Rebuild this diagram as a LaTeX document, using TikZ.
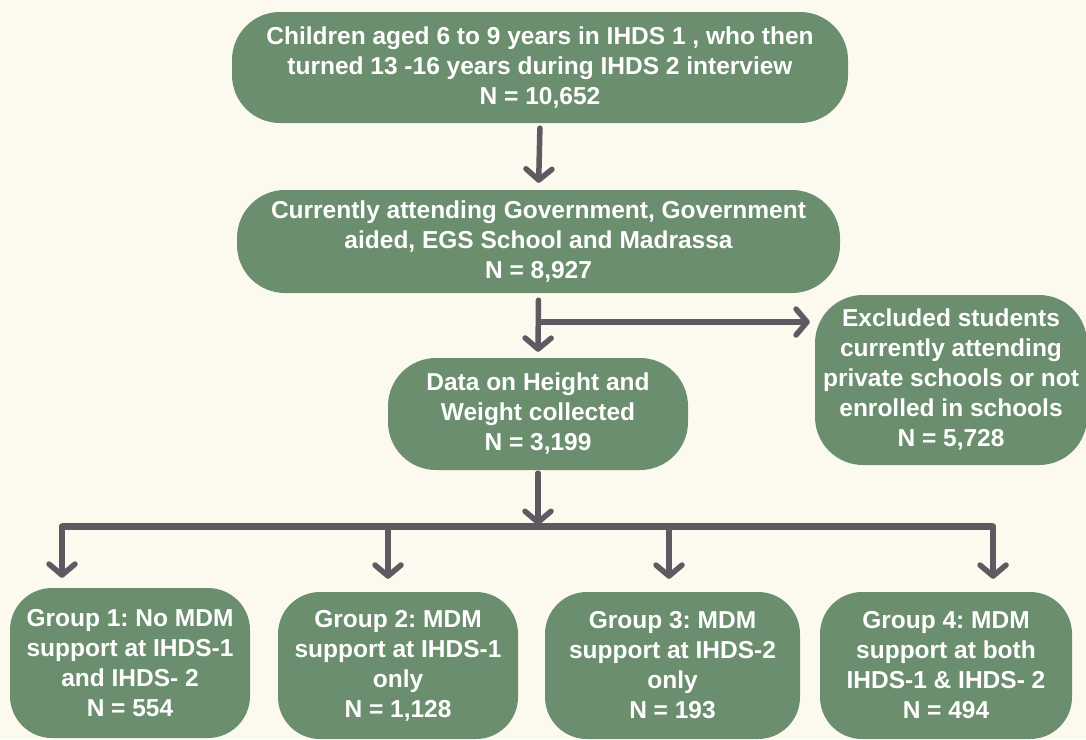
\documentclass[tikz,border=0pt]{standalone}
\usepackage{fontspec}
\setmainfont{Liberation Sans}
\usetikzlibrary{arrows.meta}
\definecolor{bg}{HTML}{FCFAEE}
\definecolor{boxgreen}{HTML}{6B8E6F}
\definecolor{arrgray}{HTML}{5F5A62}
\frenchspacing
\tikzset{
  box/.style={draw=none, fill=boxgreen, rounded corners=48pt, text=white, align=center,
    font=\bfseries\fontsize{24.5}{30}\selectfont, inner sep=0pt},
  arr/.style={draw=arrgray, line width=5.5pt, line cap=round,
    -{Straight Barb[round, length=11pt, width=26pt, line width=5.5pt]}},
  bar/.style={draw=arrgray, line width=7pt},
}
\begin{document}
\begin{tikzpicture}[x=1pt,y=-1pt]
\fill[bg] (0,0) rectangle (1086,739);
\useasboundingbox (0,0) rectangle (1086,739);

\node[box, minimum width=616pt, minimum height=111pt] (top) at (540,67.5)
  {Children aged 6 to 9 years in IHDS 1 , who then\\turned 13 -16 years during IHDS 2 interview\\N = 10,652};
\node[box, minimum width=603pt, minimum height=103pt] (gov) at (538.5,241.5)
  {Currently attending Government, Government\\aided, EGS School and Madrassa\\N = 8,927};
\node[box, minimum width=300pt, minimum height=112pt] (data) at (538,414)
  {Data on Height and\\Weight collected\\N = 3,199};
\node[box, minimum width=272pt, minimum height=170pt] (excl) at (951,380)
  {Excluded students\\currently attending\\private schools or not\\enrolled in schools\\N = 5,728};

\node[box, rounded corners=42pt, minimum width=240pt, minimum height=150pt] (g1) at (130,663)
  {Group 1: No MDM\\support at IHDS-1\\and IHDS- 2\\N = 554};
\node[box, rounded corners=42pt, minimum width=240pt, minimum height=147pt] (g2) at (398,665.5)
  {Group 2: MDM\\support at IHDS-1\\only\\N = 1,128};
\node[box, rounded corners=42pt, minimum width=255pt, minimum height=147pt] (g3) at (672.5,665.5)
  {Group 3: MDM\\support at IHDS-2\\only\\N = 193};
\node[box, rounded corners=42pt, minimum width=252pt, minimum height=147pt] (g4) at (946,665.5)
  {Group 4: MDM\\support at both\\IHDS-1 \& IHDS- 2\\N = 494};

% arrows
\draw[arr, shorten <=5pt, shorten >=7pt] (top.south) -- (gov.north);
\coordinate (b1) at (541,322);
\draw[arr, shorten <=7pt, shorten >=6pt] (gov.south) -- (data.north);
\draw[arr, shorten >=5pt] (b1) -- (b1 -| excl.west);

\coordinate (jn) at (538,526);
\draw[arr, shorten <=3pt, shorten >=1pt] (data.south) -- (jn);
\coordinate (d1) at (62,526);
\coordinate (d2) at (388,526);
\coordinate (d3) at (669,526);
\coordinate (d4) at (993,526);
\draw[bar] (d1) -- (d4);
\draw[arr, shorten >=10pt] (d1) -- (d1 |- g1.north);
\draw[arr, shorten >=13pt] (d2) -- (d2 |- g2.north);
\draw[arr, shorten >=13pt] (d3) -- (d3 |- g3.north);
\draw[arr, shorten >=13pt] (d4) -- (d4 |- g4.north);
\end{tikzpicture}
\end{document}
